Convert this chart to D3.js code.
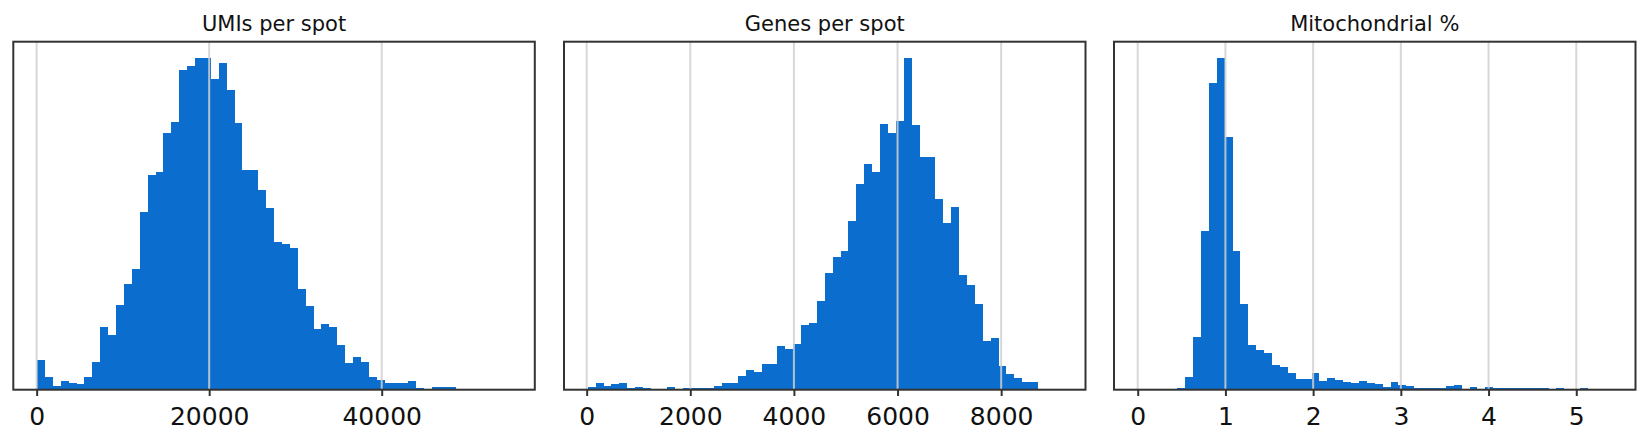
<!DOCTYPE html>
<html>
<head>
<meta charset="utf-8">
<title>QC histograms</title>
<script src="https://cdn.jsdelivr.net/npm/d3@7"></script>
<style>
    body { margin: 0; background: #fff; }
    text { font-family: "DejaVu Sans", sans-serif; fill: #111; }
    .title { font-size: 21px; }
    .axis text { font-size: 25px; }
</style>
</head>
<body>
<div id="chart"></div>
<script>

// histogram counts (60 bins per panel)
let umiCounts = [88, 37, 10, 25, 19, 16, 37, 83, 187, 163, 253, 316, 361, 532, 643, 652, 769, 804, 958, 970,
    994, 994, 931, 979, 899, 799, 658, 658, 598, 544, 442, 436, 424, 301, 252, 181, 196, 187, 133, 80,
    97, 83, 37, 29, 19, 19, 19, 25, 6, 2, 7, 7, 7, 0, 0, 0, 0, 1, 0, 2];
let geneCounts = [7, 19, 10, 16, 19, 4, 7, 4, 1, 1, 7, 2, 4, 4, 4, 4, 10, 19, 19, 40,
    58, 52, 76, 76, 130, 121, 136, 193, 199, 265, 349, 397, 415, 505, 616, 676, 652, 796, 769, 805,
    994, 793, 697, 697, 571, 499, 547, 343, 313, 256, 145, 154, 70, 46, 34, 22, 22, 1, 1, 1];
let mitoCounts = [2, 0, 0, 0, 0, 4, 37, 157, 475, 919, 994, 757, 415, 256, 133, 118, 109, 73, 67, 49,
    31, 31, 49, 25, 34, 28, 22, 19, 25, 19, 16, 7, 22, 13, 10, 6, 6, 6, 6, 10,
    13, 3, 7, 3, 7, 4, 4, 4, 4, 4, 4, 4, 0, 4, 1, 1, 4, 0, 0, 1];

// value range covered by the bins
let umiRange = [40, 55000];
let geneRange = [20, 9170];
let mitoRange = [0, 5.405];

// tick values
let umiTicks = [0, 20000, 40000];
let geneTicks = [0, 2000, 4000, 6000, 8000];
let mitoTicks = [0, 1, 2, 3, 4, 5];

let titles = ["UMIs per spot", "Genes per spot", "Mitochondrial %"];


class HistVis {

    constructor(_svg, _left, _title, _counts, _range, _ticks) {
        this.svg = _svg;
        this.left = _left;
        this.title = _title;
        this.counts = _counts;
        this.range = _range;
        this.ticks = _ticks;

        this.initVis();
    }

    initVis() {
        let vis = this;

        vis.top = 41.7;
        vis.width = 521.5;
        vis.height = 348;

        vis.g = vis.svg.append("g")
            .attr("transform", `translate(${vis.left}, ${vis.top})`);

        // bins from the range
        let step = (vis.range[1] - vis.range[0]) / vis.counts.length;
        vis.bins = vis.counts.map((c, i) => ({
            x0: vis.range[0] + i * step,
            x1: vis.range[0] + (i + 1) * step,
            count: c
        }));

        // matplotlib style 5% margins on x, 5% headroom on y
        let span = vis.range[1] - vis.range[0];
        vis.x = d3.scaleLinear()
            .domain([vis.range[0] - 0.05 * span, vis.range[1] + 0.05 * span])
            .range([0, vis.width]);

        vis.y = d3.scaleLinear()
            .domain([0, d3.max(vis.counts) * 1.05])
            .range([vis.height, 0]);

        vis.wrangleData();
    }

    wrangleData() {
        let vis = this;
        vis.displayData = vis.bins.filter(d => d.count > 0);
        vis.updateVis();
    }

    updateVis() {
        let vis = this;

        // bars
        vis.g.append("g")
            .selectAll("rect")
            .data(vis.displayData)
            .enter().append("rect")
            .attr("x", d => vis.x(d.x0))
            .attr("width", d => vis.x(d.x1) - vis.x(d.x0))
            .attr("y", d => vis.y(d.count))
            .attr("height", d => vis.y(0) - vis.y(d.count))
            .attr("fill", "#0b6ecf")
            .attr("shape-rendering", "crispEdges");

        // vertical grid, drawn over the bars
        vis.g.append("g")
            .selectAll("line")
            .data(vis.ticks)
            .enter().append("line")
            .attr("x1", d => vis.x(d))
            .attr("x2", d => vis.x(d))
            .attr("y1", 0)
            .attr("y2", vis.height)
            .attr("stroke", "#d0d0d0")
            .attr("stroke-opacity", 0.85)
            .attr("stroke-width", 2);

        // x axis
        let axis = vis.g.append("g")
            .attr("class", "axis")
            .attr("transform", `translate(0, ${vis.height})`)
            .call(d3.axisBottom(vis.x).tickValues(vis.ticks).tickSize(6.3).tickFormat(d3.format("d")));
        axis.select(".domain").remove();
        axis.selectAll(".tick line")
            .attr("stroke", "#333")
            .attr("stroke-width", 2);
        axis.selectAll(".tick text")
            .attr("y", 35.3)
            .attr("dy", 0);

        // frame
        vis.g.append("rect")
            .attr("width", vis.width)
            .attr("height", vis.height)
            .attr("fill", "none")
            .attr("stroke", "#333")
            .attr("stroke-width", 2);

        // title
        vis.g.append("text")
            .attr("class", "title")
            .attr("x", vis.width / 2)
            .attr("y", -10.7)
            .attr("text-anchor", "middle")
            .text(vis.title);
    }
}


let svg = d3.select("#chart").append("svg")
    .attr("width", 1649)
    .attr("height", 445);

new HistVis(svg, 13.3, titles[0], umiCounts, umiRange, umiTicks);
new HistVis(svg, 564, titles[1], geneCounts, geneRange, geneTicks);
new HistVis(svg, 1114, titles[2], mitoCounts, mitoRange, mitoTicks);

</script>
</body>
</html>
